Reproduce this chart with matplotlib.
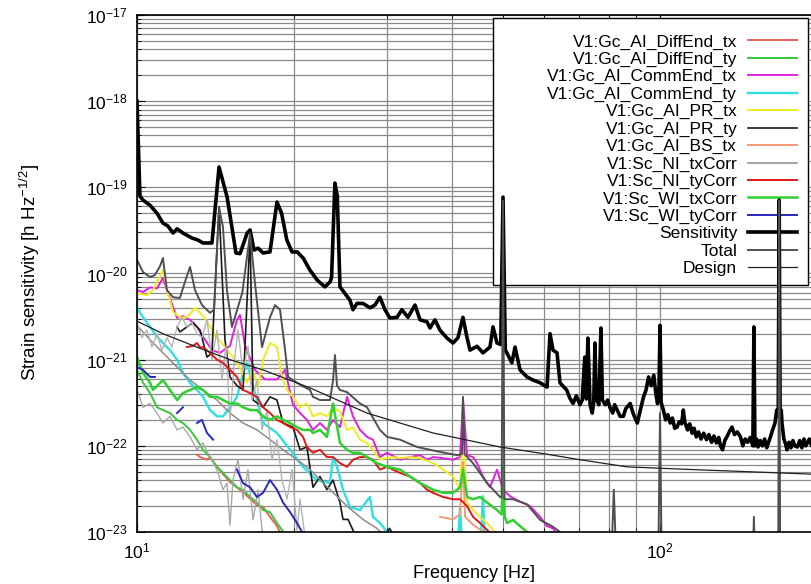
import numpy as np
import matplotlib
matplotlib.use('Agg')
import matplotlib.pyplot as plt
from matplotlib.ticker import FixedLocator, LogLocator, NullFormatter
from matplotlib.patches import Rectangle

plt.rcParams['font.family'] = ['Liberation Sans', 'DejaVu Sans']
plt.rcParams['mathtext.default'] = 'regular'

# ---- data (Hz, strain/sqrt(Hz)) ----
sens_f = [10.0, 10.13, 10.27, 10.59, 10.92, 11.21, 11.46, 11.72, 11.93, 12.24, 12.74, 13.07, 13.37, 13.91,
          14.35, 14.87, 15.46, 15.74, 16.24, 16.45, 16.74, 17.04, 17.42, 17.96, 18.52, 18.9, 19.34, 19.79,
          20.25, 20.8, 21.4, 22.1, 22.87, 23.4, 23.55, 23.9, 24.15, 24.44, 25.54, 25.88, 26.34, 27.04, 27.89,
          28.51, 29.14, 29.79, 30.45, 31.42, 32.1, 32.97, 34.0, 34.77, 35.85, 36.33, 37.13, 37.96, 39.15,
          40.2, 41.09, 42.0, 42.76, 43.32, 44.68, 45.87, 47.31, 47.94, 48.79, 49.6, 50.1, 50.6, 52.1, 52.82,
          54.0, 55.68, 57.18, 58.97, 60.82, 61.62, 62.44, 63.55, 64.39, 65.3, 66.3, 67.2, 68.2, 69.2, 70.3,
          71.0, 71.8, 72.3, 72.8, 73.5, 74.2, 74.7, 75.1, 75.5, 76.4, 77.1, 77.6, 78.6, 79.4, 80.2, 81.2,
          81.9, 82.8, 83.9, 85.1, 86.0, 87.7, 88.8, 89.6, 90.5, 91.7, 93.0, 94.0, 95.1, 96.2, 97.3, 98.2,
          98.9, 99.5, 100.0, 100.5, 101.5, 102.5, 103.5, 104.6, 105.6, 106.7, 107.8, 108.8, 110.0, 110.8,
          111.5, 112.9, 114.0, 115.2, 116.2, 117.3, 118.5, 119.8, 121.2, 122.7, 124.0, 125.5, 126.8, 128.2,
          129.5, 130.5, 131.7, 133.0, 134.5, 136.0, 137.3, 138.8, 140.5, 142.5, 144.0, 145.5, 147.1, 148.8,
          150.5, 151.2, 151.9, 153.0, 154.0, 155.5, 157.0, 158.5, 160.0, 161.1, 162.5, 164.0, 165.9, 167.2,
          168.3, 169.0, 169.7, 170.5, 171.1, 172.5, 173.8, 174.9, 176.5, 178.0, 179.5, 181.0, 183.1, 185.0,
          186.8, 188.5, 190.0, 191.4, 193.0, 195.0, 197.0, 200.0, 205.0, 212.0]
sens_v = [1.0e-18, 7.9e-20, 7.1e-20, 6.2e-20, 5.0e-20, 3.85e-20, 3.55e-20, 2.95e-20, 3.3e-20, 2.95e-20, 2.58e-20,
          2.45e-20, 2.26e-20, 2.26e-20, 1.72e-19, 7.7e-20, 1.73e-20, 1.7e-20, 2.95e-20, 3.2e-20, 1.87e-20,
          1.97e-20, 1.73e-20, 1.78e-20, 6.75e-20, 5.0e-20, 2.45e-20, 1.78e-20, 1.78e-20, 1.5e-20, 1.1e-20,
          8.4e-21, 7.0e-21, 8.0e-21, 9.0e-21, 1.12e-19, 8.0e-20, 7.0e-21, 4.9e-21, 3.8e-21, 4.5e-21, 4.5e-21,
          4.0e-21, 4.3e-21, 5.3e-21, 3.8e-21, 3.05e-21, 3.1e-21, 3.8e-21, 3.1e-21, 4.3e-21, 2.9e-21, 2.75e-21,
          2.33e-21, 2.9e-21, 2.2e-21, 1.78e-21, 1.56e-21, 1.8e-21, 3.1e-21, 1.8e-21, 1.29e-21, 1.43e-21,
          1.2e-21, 1.4e-21, 2.4e-21, 1.56e-21, 1.5e-21, 7.7e-20, 1.3e-21, 9.2e-22, 1.4e-21, 7.6e-22, 6.3e-22,
          5.8e-22, 5.4e-22, 4.8e-22, 2.0e-21, 1.29e-21, 1.2e-21, 5.4e-22, 4.9e-22, 4.45e-22, 3.6e-22, 3.1e-22,
          3.8e-22, 3.0e-22, 3.4e-22, 1.07e-21, 3.5e-22, 1.78e-21, 3.0e-22, 2.4e-22, 3.2e-22, 1.56e-21, 3.6e-22,
          3.0e-22, 2.33e-21, 3.4e-22, 3.0e-22, 3.4e-22, 2.8e-22, 2.4e-22, 3.0e-22, 2.6e-22, 2.2e-22, 2.2e-22,
          2.7e-22, 3.1e-22, 2.4e-22, 2.1e-22, 1.84e-22, 2.6e-22, 3.7e-22, 4.4e-22, 6.3e-22, 5.0e-22, 6.6e-22,
          4.0e-22, 3.1e-22, 3.6e-22, 2.5e-21, 3.2e-22, 2.6e-22, 2.0e-22, 2.3e-22, 1.84e-22, 2.1e-22, 1.6e-22,
          1.65e-22, 1.9e-22, 1.8e-22, 2.6e-22, 1.9e-22, 1.53e-22, 1.8e-22, 1.4e-22, 1.6e-22, 1.27e-22,
          1.45e-22, 1.2e-22, 1.4e-22, 1.18e-22, 1.35e-22, 1.1e-22, 1.3e-22, 1.08e-22, 1.25e-22, 1.0e-22,
          9.0e-23, 1.15e-22, 1.3e-22, 1.5e-22, 1.65e-22, 1.35e-22, 1.45e-22, 1.27e-22, 1.0e-22, 1.2e-22,
          1.1e-22, 1.25e-22, 1.0e-22, 2.4e-21, 1.0e-22, 1.2e-22, 9.7e-23, 1.15e-22, 1.0e-22, 1.2e-22, 9.5e-23,
          1.08e-22, 1.25e-22, 1.5e-22, 1.84e-22, 2.6e-22, 2.2e-22, 7.1e-20, 2.0e-22, 2.6e-22, 1.84e-22,
          1.2e-22, 1.05e-22, 9.0e-23, 1.1e-22, 9.5e-23, 1.15e-22, 1.0e-22, 9.7e-23, 1.15e-22, 9.5e-23, 1.2e-22,
          1.0e-22, 1.08e-22, 1.2e-22, 1.0e-22, 1.1e-22, 1.05e-22, 1.1e-22, 1.0e-22]

total_f = [10.0, 10.27, 10.59, 10.82, 11.07, 11.21, 11.41, 11.72, 12.08, 12.35, 12.63, 12.91, 13.31, 13.79,
           14.04, 14.35, 14.6, 14.86, 15.19, 15.9, 16.45, 16.8, 17.34, 17.96, 18.36, 18.77, 19.19, 19.45,
           20.23, 20.77, 21.42, 21.7, 22.38, 23.39, 23.7, 23.91, 24.12, 24.44, 25.21, 26.69, 27.53, 29.14,
           30.06, 31.83, 34.31, 37.96, 40.91, 41.8, 42.01, 42.3, 43.9, 46.69, 49.44, 49.8, 50.1, 50.4, 52.35,
           55.68, 58.97, 62.44, 64.39, 67.0, 80.9, 81.6, 82.3, 99.3, 100.0, 100.7, 150.5, 151.2, 151.9, 168.3,
           169.0, 169.7, 212.0]
total_v = [1.44e-20, 1.04e-20, 9.1e-21, 9.6e-21, 1.22e-20, 1.51e-20, 6.4e-21, 5.3e-21, 5.2e-21, 8.0e-21,
           1.19e-20, 6.4e-21, 4.3e-21, 3.5e-21, 3.8e-21, 5.9e-20, 3.46e-20, 6.4e-21, 2.4e-21, 6.0e-21, 2.9e-20,
           8.0e-21, 1.4e-21, 3.1e-21, 4.3e-21, 3.8e-21, 1.3e-21, 6.3e-22, 5.4e-22, 4.9e-22, 4.45e-22, 3.7e-22,
           3.4e-22, 3.4e-22, 5.7e-22, 1.13e-21, 5.0e-22, 4.45e-22, 4.2e-22, 3.1e-22, 2.8e-22, 1.53e-22,
           1.27e-22, 1.18e-22, 9.7e-23, 8.5e-23, 7.8e-23, 8.0e-23, 3.7e-22, 8.0e-23, 6.3e-23, 3.7e-23, 2.55e-23,
           2.5e-23, 7.0e-20, 2.4e-23, 2.4e-23, 2.1e-23, 1.38e-23, 1.15e-23, 1.0e-23, 8.0e-24, 7.0e-24, 3.1e-23,
           7.0e-24, 6.0e-24, 2.4e-22, 6.0e-24, 5.0e-24, 1.5e-23, 5.0e-24, 5.0e-24, 7.0e-20, 5.0e-24, 5.0e-24]

design_f = [10.0, 11.21, 13.02, 15.06, 17.42, 21.42, 27.53, 36.81, 49.44, 60.0, 70.3, 86.5, 115.6, 194.0, 212.0]
design_v = [2.8e-21, 2.0e-21, 1.4e-21, 1.0e-21, 7.6e-22, 4.7e-22, 2.4e-22, 1.41e-22, 9.7e-23, 8.1e-23, 6.9e-23,
            5.7e-23, 5.3e-23, 4.7e-23, 4.6e-23]

pr_tx_f = [10.0, 10.45, 10.73, 11.21, 11.46, 11.72, 12.08, 12.46, 12.91, 13.31, 13.67, 14.1, 14.6, 15.26,
           15.74, 16.23, 16.59, 16.81, 17.04, 17.42, 17.96, 18.52, 18.93, 19.36, 19.87, 20.5, 21.13, 21.7,
           22.38, 23.08, 23.7, 24.44, 25.21, 25.88, 26.69, 27.53, 28.26, 29.14, 30.06, 30.86, 31.83, 33.27,
           34.77, 36.81, 38.47, 40.2, 41.46, 42.01, 42.76, 43.9, 45.27, 46.69, 47.94, 48.79]
pr_tx_v = [5.9e-21, 5.6e-21, 6.4e-21, 1.1e-20, 5.9e-21, 3.6e-21, 3.1e-21, 3.1e-21, 4.0e-21, 3.3e-21, 2.66e-21,
           1.9e-21, 1.5e-21, 1.07e-21, 8.0e-22, 5.4e-22, 7.6e-22, 6.3e-22, 4.8e-22, 1.0e-21, 1.56e-21, 1.4e-21,
           6.3e-22, 4.45e-22, 3.7e-22, 2.8e-22, 3.1e-22, 2.2e-22, 2.4e-22, 2.2e-22, 2.8e-22, 2.5e-22, 1.53e-22,
           1.65e-22, 1.18e-22, 1.08e-22, 9.0e-23, 6.9e-23, 7.2e-23, 7.4e-23, 7.2e-23, 7.4e-23, 7.2e-23, 6.3e-23,
           5.3e-23, 4.4e-23, 3.1e-23, 1.53e-22, 2.2e-23, 1.8e-23, 1.5e-23, 1.27e-23, 1.06e-23, 9.0e-24]

comm_tx_f = [10.0, 10.27, 10.59, 10.92, 11.21, 11.46, 11.93, 12.24, 12.63, 13.02, 13.49, 13.91, 14.41, 15.06,
             15.53, 15.74, 16.09, 16.81, 17.57, 18.52, 19.19, 19.87, 20.5, 21.13, 21.7, 22.38, 23.08, 23.7,
             24.44, 25.21, 25.88, 26.69, 27.53, 28.26, 29.14, 30.06, 31.83, 33.27, 34.77, 35.85, 36.81, 38.47,
             40.2, 41.46, 42.01, 42.76, 43.9, 44.68, 45.87, 47.31, 48.79, 50.1, 51.67, 54.0, 56.43, 58.97,
             60.82, 62.44, 63.8]
comm_tx_v = [6.4e-21, 6.1e-21, 6.9e-21, 6.7e-21, 8.9e-21, 5.9e-21, 3.05e-21, 3.2e-21, 2.9e-21, 2.4e-21, 1.7e-21,
             1.29e-21, 1.2e-21, 1.45e-21, 2.9e-21, 3.3e-21, 1.45e-21, 7.6e-22, 5.9e-22, 5.9e-22, 7.6e-22, 3.0e-22,
             2.4e-22, 2.0e-22, 1.53e-22, 1.84e-22, 1.53e-22, 2.0e-22, 1.65e-22, 3.7e-22, 2.2e-22, 1.53e-22,
             1.27e-22, 1.18e-22, 7.4e-23, 8.3e-23, 6.9e-23, 7.4e-23, 7.8e-23, 6.9e-23, 7.4e-23, 7.2e-23, 6.9e-23,
             7.4e-23, 3.4e-22, 7.8e-23, 7.4e-23, 6.3e-23, 4.4e-23, 3.3e-23, 5.3e-23, 3.1e-23, 2.6e-23, 2.25e-23,
             2.0e-23, 1.5e-23, 1.17e-23, 1.1e-23, 9.0e-24]

comm_ty_f = [10.0, 10.27, 10.59, 10.92, 11.21, 11.56, 11.93, 12.24, 12.63, 13.02, 13.37, 13.79, 14.22, 14.6,
             15.06, 15.53, 15.88, 16.23, 16.59, 16.96, 17.42, 18.52, 19.62, 20.77, 22.09, 23.39, 23.7, 24.12,
             24.77, 25.54, 26.69, 27.89, 28.26, 29.14, 30.06, 31.14, 41.0, 41.46, 41.9, 45.3, 45.87, 46.3, 49.0]
comm_ty_v = [4.0e-21, 3.1e-21, 2.4e-21, 1.85e-21, 1.56e-21, 1.29e-21, 1.0e-21, 7.0e-22, 5.4e-22, 4.45e-22,
             3.7e-22, 2.6e-22, 2.2e-22, 2.2e-22, 2.8e-22, 3.7e-22, 6.3e-22, 9.2e-22, 5.4e-22, 3.4e-22, 1.84e-22,
             1.41e-22, 9.0e-23, 5.7e-23, 4.0e-23, 3.7e-23, 7.4e-23, 5.7e-23, 3.1e-23, 1.95e-23, 1.8e-23, 2.55e-23,
             1.5e-23, 1.27e-23, 1.0e-23, 7.0e-24, 6.0e-24, 1.9e-23, 6.0e-24, 6.0e-24, 2.6e-23, 6.0e-24, 5.0e-24]

wi_tx_f = [10.0, 10.27, 10.59, 10.73, 11.21, 11.56, 11.93, 12.24, 12.63, 13.02, 13.37, 13.79, 14.22, 14.6,
           15.06, 15.53, 15.95, 16.45, 16.96, 17.42, 17.96, 18.52, 19.02, 19.62, 20.23, 20.77, 21.42, 21.7,
           22.38, 23.08, 23.7, 24.44, 25.21, 25.88, 26.69, 27.53, 28.76, 30.06, 31.83, 33.27, 34.77, 36.81,
           38.47, 40.2, 41.46, 42.01, 42.76, 43.9, 45.27, 46.69, 48.79, 49.8, 50.1, 50.5, 50.99, 52.35, 54.0,
           55.68, 57.6]
wi_tx_v = [1.07e-21, 7.0e-22, 5.4e-22, 4.45e-22, 5.8e-22, 4.45e-22, 3.4e-22, 4.1e-22, 4.45e-22, 4.8e-22,
           4.45e-22, 3.7e-22, 3.7e-22, 3.4e-22, 3.1e-22, 3.1e-22, 2.8e-22, 2.6e-22, 2.6e-22, 2.2e-22, 2.0e-22,
           2.2e-22, 2.0e-22, 1.84e-22, 1.65e-22, 1.53e-22, 1.53e-22, 1.41e-22, 1.53e-22, 1.27e-22, 3.1e-22,
           1.08e-22, 9.0e-23, 8.3e-23, 8.3e-23, 7.4e-23, 6.3e-23, 5.7e-23, 5.3e-23, 4.4e-23, 3.7e-23, 3.1e-23,
           2.85e-23, 2.85e-23, 3.3e-23, 5.3e-23, 2.55e-23, 2.4e-23, 2.55e-23, 2.2e-23, 1.8e-23, 1.6e-23, 5.7e-23,
           1.5e-23, 1.27e-23, 1.38e-23, 1.17e-23, 1.0e-23, 8.0e-24]

diff_ty_f = [10.0, 10.27, 10.59, 10.92, 11.21, 11.56, 11.93, 12.24, 12.63, 13.02, 13.37, 13.79, 14.22, 14.6,
             15.06, 15.53, 15.95, 16.45, 16.96, 17.42, 17.96, 18.52, 18.93, 19.3]
diff_ty_v = [7.6e-22, 5.4e-22, 4.1e-22, 2.8e-22, 2.6e-22, 2.4e-22, 2.0e-22, 1.84e-22, 1.53e-22, 1.18e-22,
             9.0e-23, 7.4e-23, 5.7e-23, 4.85e-23, 4.0e-23, 3.3e-23, 3.1e-23, 2.55e-23, 2.2e-23, 1.8e-23, 1.7e-23,
             1.27e-23, 1.06e-23, 8.0e-24]

diff_tx_f = [13.02, 13.2, 13.61, 13.79, 14.22, 15.06, 15.95, 16.96, 17.42, 17.96, 18.52, 18.93]
diff_tx_v = [7.9e-23, 7.4e-23, 6.9e-23, 7.4e-23, 5.7e-23, 3.8e-23, 2.9e-23, 2.05e-23, 1.95e-23, 1.5e-23,
             1.17e-23, 9.0e-24]

ni_ty_f = [12.46, 12.8, 13.02, 13.2, 13.37, 13.79, 14.22, 14.6, 15.06, 15.53, 15.95, 16.45, 16.96, 17.42, 17.96,
           18.52, 19.02, 19.62, 20.23, 20.77, 21.13, 21.7, 22.38, 23.08, 23.7, 24.44, 25.21, 25.88, 26.69,
           27.53, 28.26, 29.14, 30.06, 31.83, 33.27, 34.77, 35.85, 36.81, 38.47, 40.2, 41.46, 42.76, 43.9,
           45.27, 46.69, 47.9]
ni_ty_v = [1.4e-21, 1.45e-21, 1.56e-21, 1.38e-21, 1.4e-21, 1.2e-21, 1.0e-21, 9.2e-22, 7.6e-22, 6.3e-22, 4.45e-22,
           4.1e-22, 3.7e-22, 2.8e-22, 2.4e-22, 2.0e-22, 1.84e-22, 1.65e-22, 1.53e-22, 1.27e-22, 9.7e-23, 8.3e-23,
           9.0e-23, 7.4e-23, 7.4e-23, 6.3e-23, 5.7e-23, 6.9e-23, 7.4e-23, 7.4e-23, 6.9e-23, 5.3e-23, 5.7e-23,
           4.85e-23, 4.4e-23, 3.7e-23, 3.1e-23, 2.85e-23, 2.55e-23, 2.4e-23, 2.4e-23, 2.0e-23, 1.5e-23,
           1.27e-23, 1.06e-23, 9.0e-24]

wi_ty_f = [10.0, 10.27, 10.59, 10.82, 11.4, 11.93, 12.24, 12.6, 13.02, 13.31, 13.61, 13.98, 14.8, 15.53,
           15.95, 16.45, 16.96, 17.42, 17.96, 18.52, 19.02, 19.62, 20.23, 20.5, 20.9]
wi_ty_v = [8.2e-22, 7.6e-22, 6.3e-22, 6.3e-22, np.nan, 2.4e-22, 2.8e-22, np.nan, 1.84e-22, 2.0e-22, 1.41e-22,
           1.18e-22, np.nan, 5.3e-23, 3.7e-23, 3.3e-23, 2.55e-23, 2.85e-23, 4.0e-23, 3.1e-23, 2.2e-23, 1.7e-23,
           1.27e-23, 1.1e-23, 9.0e-24]

pr_ty_f = [11.93, 12.08, 12.8, 13.2, 13.61, 13.91, 14.35, 14.73, 15.06, 15.53, 15.95, 16.45, 16.67, 17.42,
           17.96, 18.52, 19.02, 19.87, 20.5, 21.13, 21.7, 22.38, 23.08, 23.7, 24.44, 24.77, 25.32, 25.88, 26.3,
           29.5, 30.4, 31.4]
pr_ty_v = [2.4e-21, 2.1e-21, 2.7e-21, 2.2e-21, 1.07e-21, 1.2e-21, 5.9e-20, 1.7e-21, 6.3e-22, 5.0e-22, 4.45e-22,
           2.9e-20, 3.4e-22, 2.8e-22, 3.7e-22, 3.4e-22, 1.84e-22, 1.65e-22, 9.0e-23, 9.7e-23, 3.3e-23, 4.4e-23,
           3.1e-23, 4.0e-23, 2.2e-23, 1.4e-23, 1.4e-23, 1.05e-23, 8.0e-24, 8.0e-24, 1.1e-23, 8.0e-24]

bs_tx_f = [38.0, 40.2, 41.46, 42.01, 42.4, 44.0, 46.0, 48.0]
bs_tx_v = [1.5e-23, 1.4e-23, 1.6e-23, 6.5e-23, 1.5e-23, 1.2e-23, 1.0e-23, 8.0e-24]

ni_tx_f = [10.0, 10.59, 11.21, 11.93, 12.63, 13.37, 14.22, 15.06, 15.95, 16.96, 17.96, 19.02, 20.23, 21.42,
           23.39, 25.21, 27.04, 28.76, 29.8]
ni_tx_v = [2.5e-21, 1.7e-21, 1.2e-21, 8.2e-22, 5.8e-22, 4.45e-22, 3.4e-22, 2.4e-22, 1.84e-22, 1.53e-22, 1.18e-22,
           9.0e-23, 6.9e-23, 5.3e-23, 3.1e-23, 2.0e-23, 1.4e-23, 1.1e-23, 9.0e-24]

# extra light grey traces (no legend entry)
grey_a_f = [10.0, 10.22, 10.45, 10.68, 10.92, 11.16, 11.41, 11.66, 11.93, 12.19, 12.46, 12.74, 13.02, 13.31,
            13.61, 13.91, 14.22, 14.54, 14.8, 15.06, 15.33, 15.6, 15.95, 16.3, 16.59, 16.96, 17.34, 17.73,
            18.12, 18.52, 18.93, 19.36, 19.79, 20.23, 20.5, 21.0]
grey_a_v = [2.6e-21, 1.8e-21, 2.2e-21, 1.4e-21, 2.0e-21, 1.29e-21, 1.8e-21, 1.4e-21, 2.4e-21, 3.1e-21, 2.4e-21,
            2.7e-21, 2.0e-21, 1.8e-21, 2.9e-21, 1.0e-21, 2.2e-21, 5.8e-22, 1.45e-21, 2.0e-22, 8.7e-22, 2.2e-21,
            7.2e-22, 1.45e-21, 3.4e-22, 5.8e-22, 1.53e-22, 2.6e-22, 6.9e-23, 1.18e-22, 4.0e-23, 2.4e-23, 5.3e-23,
            1.05e-23, 2.4e-23, 8.0e-24]
grey_b_f = [10.0, 10.27, 10.59, 10.92, 11.21, 11.56, 11.93, 12.24, 12.63, 13.02, 13.37, 13.79, 14.22, 14.6,
            14.86, 15.06, 15.26, 15.6, 15.95, 16.3, 16.67, 17.04, 17.34, 17.7]
grey_b_v = [4.45e-22, 2.8e-22, 3.1e-22, 2.4e-22, 1.84e-22, 2.2e-22, 1.53e-22, 1.65e-22, 1.27e-22, 9.0e-23,
            1.08e-22, 7.4e-23, 5.3e-23, 3.1e-23, 3.7e-23, 1.2e-23, 4.0e-23, 6.9e-23, 2.4e-23, 5.3e-23, 1.38e-23,
            3.1e-23, 1.05e-23, 8.0e-24]

fig = plt.figure(figsize=(8.11, 5.84), dpi=100)
# the frame runs past the right edge of the picture, as in the original
ax = fig.add_axes([137/811, 52/584, 693/811, 517/584])

lw = 1.4
ax.plot(diff_tx_f, diff_tx_v, color='#e8605a', lw=lw, label='V1:Gc_AI_DiffEnd_tx')
ax.plot(diff_ty_f, diff_ty_v, color='#38c838', lw=lw, label='V1:Gc_AI_DiffEnd_ty')
ax.plot(comm_tx_f, comm_tx_v, color='#e020e0', lw=lw, label='V1:Gc_AI_CommEnd_tx')
ax.plot(comm_ty_f, comm_ty_v, color='#30e0e0', lw=1.7, label='V1:Gc_AI_CommEnd_ty')
ax.plot(pr_tx_f, pr_tx_v, color='#f0ec20', lw=lw, label='V1:Gc_AI_PR_tx')
ax.plot(pr_ty_f, pr_ty_v, color='#1a1a1a', lw=1.2, label='V1:Gc_AI_PR_ty')
ax.plot(bs_tx_f, bs_tx_v, color='#f29a78', lw=lw, label='V1:Gc_AI_BS_tx')
ax.plot(ni_tx_f, ni_tx_v, color='#8c8c8c', lw=1.1, label='V1:Sc_NI_txCorr')
ax.plot(grey_a_f, grey_a_v, color='#b4b4b4', lw=1.0, label='_nolegend_')
ax.plot(grey_b_f, grey_b_v, color='#a8a8a8', lw=1.0, label='_nolegend_')
ax.plot(ni_ty_f, ni_ty_v, color='#e01818', lw=lw, label='V1:Sc_NI_tyCorr')
ax.plot(wi_tx_f, wi_tx_v, color='#30d030', lw=1.8, label='V1:Sc_WI_txCorr')
ax.plot(wi_ty_f, wi_ty_v, color='#2828c0', lw=lw, label='V1:Sc_WI_tyCorr')
ax.plot(sens_f, sens_v, color='black', lw=2.6, label='Sensitivity')
ax.plot(total_f, total_v, color='#505050', lw=1.4, label='Total')
ax.plot(design_f, design_v, color='#202020', lw=0.9, label='Design')

ax.set_xscale('log')
ax.set_yscale('log')
ax.set_xlim(10, 10 ** (1 + 693 / 523))
ax.set_ylim(1e-23, 1e-17)

ax.yaxis.set_major_locator(FixedLocator([1e-23, 1e-22, 1e-21, 1e-20, 1e-19, 1e-18, 1e-17]))
ax.yaxis.set_minor_locator(LogLocator(base=10, subs=np.arange(2, 10), numticks=12))
ax.yaxis.set_minor_formatter(NullFormatter())
ax.xaxis.set_major_locator(FixedLocator([10, 100]))
ax.xaxis.set_minor_locator(LogLocator(base=10, subs=np.arange(2, 10), numticks=12))
ax.xaxis.set_minor_formatter(NullFormatter())

ax.set_axisbelow(True)
ax.grid(True, which='both', color='#8a8a8a', lw=0.9)
ax.tick_params(which='both', direction='in', top=True, right=True, labelsize=12.5)
ax.tick_params(which='major', length=6, pad=7)
ax.tick_params(which='minor', length=3)
for s in ax.spines.values():
    s.set_linewidth(1.2)

fig.text(30/811, 1 - 273/584, r'Strain sensitivity [h Hz$^{-1/2}$]', rotation=90,
         ha='center', va='center', fontsize=13.5)
fig.text(474/811, 1 - 573/584, 'Frequency [Hz]', ha='center', va='center', fontsize=13)

# key box: wide white box with the entries pushed to its right side
box = Rectangle((493/811, 1 - 285/584), 315/811, 267/584, transform=fig.transFigure,
                facecolor='white', edgecolor='black', lw=1.0, zorder=1.4)
ax.add_artist(box)
leg = ax.legend(loc='upper right', bbox_to_anchor=(802/811, 1 - 29/584), bbox_transform=fig.transFigure,
                borderaxespad=0, markerfirst=False, fontsize=12.5, labelspacing=0.125,
                handlelength=2.8, handletextpad=0.63, borderpad=0.3, frameon=False)
leg.set_zorder(1.5)  # spikes are drawn over the key box

fig.savefig('out.png', dpi=100)
